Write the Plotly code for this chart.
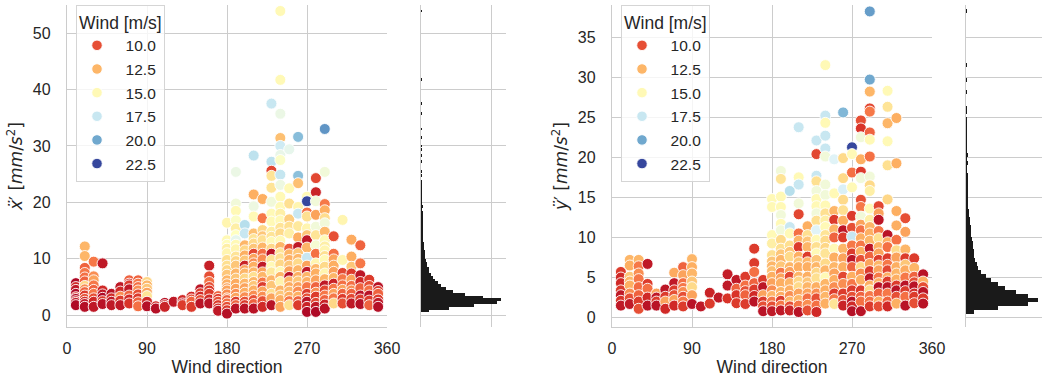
import plotly.graph_objects as go
from plotly.colors import sample_colorscale

# ---------------- data ----------------
directions = [10, 20, 30, 40, 50, 60, 70, 80, 90, 100, 110, 120, 130, 140, 150, 160, 170,
              180, 190, 200, 210, 220, 230, 240, 250, 260, 270, 280, 290, 300, 310, 320, 330, 340, 350]

accx_cols = [
    [5.7, 5.0, 4.5, 3.8, 3.2, 2.9, 2.5, 2.2, 1.8],
    [12.2, 10.5, 8.4, 7.5, 6.7, 6.0, 5.2, 4.6, 4.1, 3.5, 2.9, 2.4, 2.0, 1.5],
    [9.5, 6.9, 6.2, 5.3, 4.5, 3.8, 3.0, 2.4, 1.5],
    [9.2, 4.4, 3.7, 3.1, 2.5, 2.0],
    [3.8, 3.0, 2.4, 1.8],
    [5.0, 4.2, 3.3, 2.6, 1.8],
    [6.2, 5.6, 5.3, 4.6, 3.5, 2.8, 2.1],
    [6.2, 5.6, 5.0, 4.4, 3.7, 3.0, 2.3, 1.6],
    [5.9, 5.3, 4.7, 4.0, 3.4, 2.4, 1.6],
    [1.6, 1.2],
    [2.2, 1.8, 1.5],
    [2.4],
    [2.7, 2.1, 1.8],
    [3.3, 2.8, 2.4, 1.5],
    [4.6, 3.9, 3.3, 2.7, 2.1],
    [8.8, 6.9, 5.9, 5.0, 4.4, 3.8, 2.8, 2.1],
    [3.4, 2.9, 2.4, 1.8, 1.2, 0.8],
    [16.4, 13.3, 12.5, 11.8, 11.0, 9.8, 8.8, 8.0, 7.2, 6.2, 5.5, 4.8, 4.4, 3.7, 3.0, 2.7, 2.1, 1.5, 0.9, 0.3],
    [25.4, 19.8, 18.5, 16.8, 15.4, 14.2, 13.3, 12.5, 11.7, 10.4, 9.6, 8.8, 7.4, 6.5, 5.6, 4.7, 3.8, 3.1, 2.4, 1.8, 1.2],
    [16.0, 14.5, 12.4, 11.5, 10.6, 9.7, 8.8, 8.0, 7.4, 6.5, 5.6, 4.8, 4.0, 3.2, 2.4, 1.8, 1.2],
    [28.3, 21.4, 19.3, 17.5, 14.5, 13.5, 12.7, 11.8, 10.9, 10.0, 9.2, 8.6, 7.6, 6.8, 5.9, 5.2, 4.4, 3.5, 2.7, 2.0, 1.2],
    [20.6, 17.2, 15.1, 14.0, 13.3, 12.0, 10.9, 9.9, 8.6, 7.6, 6.8, 5.8, 5.0, 4.2, 3.3, 2.5, 1.5],
    [37.5, 27.2, 25.6, 24.7, 22.6, 20.1, 18.0, 16.6, 14.8, 13.9, 13.0, 11.8, 10.9, 9.8, 8.6, 7.6, 6.2, 5.2, 3.8, 3.0, 1.8],
    [53.9, 41.7, 35.7, 31.4, 30.0, 28.4, 27.5, 24.9, 23.1, 21.0, 19.2, 18.0, 16.8, 15.5, 14.5, 13.2, 12.1, 11.0, 10.1, 9.0, 7.7, 6.8, 5.9, 4.4, 3.5, 2.7, 1.5],
    [29.4, 22.5, 19.8, 17.0, 15.7, 14.5, 11.8, 10.8, 9.8, 8.8, 7.8, 6.8, 6.0, 5.0, 4.2, 3.3, 2.5, 1.8],
    [31.6, 24.7, 23.4, 19.2, 18.0, 15.8, 13.8, 12.1, 11.0, 10.0, 9.2, 8.0, 6.8, 6.0, 5.0, 4.2, 3.3, 2.5, 1.8],
    [21.0, 20.2, 18.2, 17.5, 15.4, 14.2, 13.3, 12.0, 10.2, 8.8, 7.7, 6.8, 5.9, 5.0, 3.8, 3.0, 2.4, 1.5, 0.6],
    [24.3, 21.8, 20.2, 17.8, 15.7, 14.2, 12.4, 10.9, 9.2, 8.2, 7.4, 6.2, 5.0, 4.0, 3.3, 2.2, 1.5, 0.6],
    [33.0, 25.4, 19.7, 18.6, 17.2, 16.3, 14.8, 13.3, 12.2, 11.5, 10.5, 9.8, 8.6, 7.4, 6.4, 5.3, 4.4, 3.5, 2.7, 1.9, 1.2],
    [14.0, 10.9, 9.9, 8.8, 7.7, 6.6, 5.6, 4.7, 3.8, 3.0, 2.1],
    [16.9, 9.8, 7.5, 6.4, 5.3, 4.5, 3.8, 2.9, 2.1],
    [13.4, 10.4, 8.6, 7.4, 6.3, 5.2, 4.4, 3.8, 2.9, 2.1],
    [12.4, 9.2, 7.1, 5.9, 4.8, 3.5, 2.8, 2.0],
    [6.3, 5.2, 4.4, 3.5, 2.6, 1.8],
    [5.0, 4.3, 3.8, 2.8, 2.2, 1.5],
]

windx_cols = [
    [8, 9, 8.5, 8, 9.5, 8, 9, 8.5, 8],
    [12.5, 12.5, 10.5, 11, 10.8, 10.5, 13.5, 11.5, 10.5, 9.5, 10, 9, 8.5, 8.2],
    [11, 11.5, 12, 11, 10.5, 11, 10, 9, 8.5],
    [8.5, 9, 8.5, 8, 9.5, 8.3],
    [8.3, 9, 8.5, 8.5],
    [8.5, 9, 11.5, 9.5, 8.5],
    [10.5, 9, 9.5, 8.5, 10.5, 9, 9.3],
    [10.5, 11, 10.8, 11.5, 10, 9.5, 10.5, 10.8],
    [13.5, 12.5, 13, 12, 14, 9, 8.2],
    [9, 8.2],
    [8.3, 9, 8.8],
    [8.5],
    [9, 8.5, 9.5],
    [9, 10, 10.5, 9.5],
    [8.4, 9.5, 9, 10, 8.3],
    [8.7, 10, 10.8, 10, 9.5, 9.5, 9, 8.3],
    [10.5, 9.5, 10, 9.5, 9, 8.5],
    [14.8, 15, 15.2, 14.5, 14.8, 13.8, 13.8, 13.5, 13, 12.5, 12.3, 12, 12, 11.5, 11.5, 10.5, 10.8, 10, 9.5, 8.2],
    [16.3, 16, 15, 15.5, 14.5, 15.3, 16.5, 15, 14.8, 14, 13.5, 13, 12.5, 13, 12.2, 12, 11.5, 12, 9.5, 10.5, 8.3],
    [18, 17.5, 12.5, 13.5, 12.3, 13, 8.8, 12, 12.5, 13.5, 12.5, 12, 12.3, 11.5, 10, 9.5, 8.3],
    [17.8, 12.3, 16.2, 15, 12.8, 14, 13.6, 13, 9.8, 12, 11.5, 12.3, 12.5, 13.8, 12.5, 13, 12.3, 11.5, 10, 10.5, 8.3],
    [12.3, 11, 13.5, 13, 13.8, 12.5, 10.8, 11.5, 8.5, 12, 12.5, 11, 9.5, 12, 11.5, 10, 9],
    [17.5, 17.8, 9.8, 14, 14, 16, 15, 15, 14.5, 14, 15, 13.5, 8.3, 14, 15, 14.2, 12.5, 13, 13.8, 12, 8.3],
    [15, 15, 16.3, 12.8, 17.3, 16.4, 15.5, 17.6, 16.2, 15, 15, 14.5, 15, 14, 13.6, 15, 12.5, 14, 13.8, 13.5, 15, 12.5, 14.7, 12.5, 13, 12.3, 12],
    [16.5, 15, 13.8, 13.2, 13.8, 14.5, 10.3, 12.5, 12.3, 13, 12, 8.3, 12.5, 12.2, 12.6, 12.3, 11, 13.8],
    [19.3, 19.2, 12.8, 14.8, 17.5, 14.2, 12.3, 8.5, 13, 12.5, 13.6, 12.5, 12.3, 13, 12, 11.5, 12.3, 10.5, 9.5],
    [15, 22.5, 10.8, 13.8, 14.8, 13, 8.5, 12.5, 17.5, 12, 8.5, 12.5, 12.3, 11, 9.5, 10, 8.3, 8.8, 8.0],
    [9.8, 8.8, 16, 12, 16, 14, 15.8, 10.8, 14.8, 12.5, 12.3, 12, 10.5, 11.5, 9.5, 9.8, 8.5, 8.0],
    [20.5, 16, 11, 12.3, 13.7, 16, 12.6, 15, 14.5, 14.8, 13.8, 15, 13.6, 14.8, 12.5, 8.5, 9.8, 11, 10.5, 8.8, 8.3],
    [10, 10.8, 12, 12.3, 12, 12.5, 8.8, 11, 12, 11, 13.5],
    [14.8, 14.8, 9.8, 11, 10.8, 12, 10.5, 9.5, 10],
    [12.2, 12.3, 13, 9.5, 12, 10.8, 11.5, 10.5, 9.8, 8.5],
    [10.5, 11, 8.4, 9, 10.5, 8.3, 9.5, 8.2],
    [9.5, 10, 10.8, 8.3, 9.5, 10.5],
    [8.3, 9.5, 10.5, 9.5, 8.5, 8.2],
]

accy_cols = [
    [5.7, 5.0, 4.3, 3.4, 2.8, 2.1, 1.5],
    [7.2, 6.5, 5.1, 4.5, 4.0, 3.0, 2.4, 1.7],
    [7.2, 6.4, 5.5, 4.8, 3.8, 2.8, 2.0, 1.1],
    [6.7, 4.2, 3.6, 2.5, 1.5],
    [3.0, 2.5, 2.0, 1.5],
    [3.5, 2.6, 2.0, 1.1],
    [5.6, 4.3, 3.4, 2.8, 2.2, 1.5],
    [6.3, 5.3, 4.3, 3.7, 3.2, 2.6, 2.0, 1.4],
    [7.3, 6.3, 5.5, 4.5, 3.8, 2.8, 1.7],
    [1.4],
    [3.1, 1.75],
    [2.5],
    [5.4, 4.0, 2.4],
    [4.7, 3.6, 2.8, 1.8],
    [5.1, 4.0, 3.3, 2.8, 1.7],
    [8.6, 6.8, 5.7, 4.3, 3.5, 2.7, 2.0],
    [4.7, 3.8, 2.8, 2.0, 1.4, 0.8],
    [14.8, 13.8, 10.3, 9.25, 7.8, 7.0, 6.4, 5.8, 5.1, 4.3, 3.4, 2.7, 2.0, 1.4, 0.8],
    [18.3, 17.3, 15.1, 13.8, 12.8, 11.7, 10.9, 9.7, 8.6, 7.9, 7.2, 6.4, 5.6, 4.9, 4.3, 3.2, 2.6, 2.1, 1.5, 0.9],
    [15.8, 11.3, 10.5, 9.0, 8.2, 7.6, 6.3, 5.7, 5.1, 4.3, 3.4, 2.7, 2.0, 1.4, 0.9],
    [23.75, 17.5, 16.6, 14.25, 12.9, 10.5, 9.6, 8.8, 7.6, 6.9, 6.3, 5.1, 4.5, 3.8, 3.0, 2.2, 1.5, 0.7],
    [11.4, 10.3, 9.5, 8.8, 7.6, 6.9, 6.3, 5.1, 4.4, 3.8, 3.0, 2.4, 1.6, 0.9],
    [22.1, 20.4, 17.7, 17.0, 15.8, 14.8, 13.9, 13.0, 12.1, 10.9, 9.7, 8.8, 8.0, 7.2, 6.3, 5.6, 4.9, 3.8, 3.0, 2.4, 1.5, 0.7],
    [31.5, 25.2, 24.3, 22.7, 21.1, 20.1, 16.6, 15.3, 14.0, 13.0, 12.1, 11.3, 10.3, 9.6, 8.7, 8.0, 6.75, 5.9, 5.0, 4.2, 3.4, 2.6, 1.75],
    [19.75, 15.5, 13.3, 12.2, 11.0, 10.0, 8.6, 7.5, 6.3, 5.5, 4.7, 3.8, 3.0, 2.3, 1.7],
    [25.6, 19.9, 17.4, 16.0, 14.7, 13.4, 12.1, 10.9, 10.0, 8.6, 7.4, 6.3, 5.1, 4.2, 3.0, 2.2, 1.5],
    [21.25, 20.4, 18.1, 16.25, 12.7, 11.2, 10.1, 9.0, 8.0, 7.2, 6.3, 5.1, 4.2, 3.4, 2.6, 2.0, 1.4, 0.8],
    [24.6, 23.6, 22.5, 19.75, 18.2, 17.4, 14.7, 13.8, 12.6, 11.6, 10.9, 9.9, 9.0, 8.2, 7.2, 6.3, 5.5, 4.7, 3.4, 2.6, 2.0, 0.8],
    [38.2, 29.7, 28.2, 26.1, 25.7, 23.1, 22.2, 20.1, 17.6, 16.5, 15.8, 13.6, 12.2, 11.3, 10.5, 9.6, 8.6, 7.6, 6.7, 5.8, 4.9, 4.0, 3.4, 2.7, 2.0, 1.4],
    [13.9, 13.0, 12.2, 10.8, 9.9, 8.8, 8.0, 7.2, 6.5, 5.9, 5.0, 4.3, 3.8, 3.0, 2.0, 1.4],
    [28.3, 26.3, 24.25, 22.0, 19.0, 14.75, 10.3, 9.4, 8.8, 7.4, 6.6, 5.9, 5.0, 4.5, 3.8, 3.0, 2.0, 1.4],
    [24.9, 19.25, 13.3, 11.5, 9.7, 8.4, 7.5, 6.3, 5.5, 4.75, 4.0, 3.4, 2.6, 1.75],
    [12.4, 10.7, 8.5, 7.4, 6.6, 5.9, 5.0, 4.0, 3.3, 2.6, 1.5],
    [7.4, 6.2, 5.1, 4.4, 3.9, 3.0, 2.6, 1.8],
    [5.4, 4.5, 3.8, 3.2, 2.4, 1.75],
]

windy_cols = [
    [9.5, 9, 9, 9.5, 8.5, 9.3, 8.5],
    [12.5, 12.3, 13, 12.5, 12.3, 11.5, 10, 8.5],
    [12.5, 11, 11.5, 11, 10.7, 10.5, 9.5, 10],
    [8.5, 9.5, 10.8, 9, 8.3],
    [12, 8.5, 9.5, 8.3],
    [8.4, 9.5, 12, 9],
    [12.2, 8.5, 9.5, 10, 12, 9],
    [10.5, 12, 10.8, 11, 11.5, 10, 11, 9.5],
    [12.5, 12.3, 12.5, 13, 13.6, 12, 8.3],
    [8.5],
    [8.8, 9.5],
    [8.5],
    [8.6, 8.5, 9.3],
    [8.5, 10.5, 9.3, 9.5],
    [9.5, 10.8, 10, 10.5, 9.5],
    [9.5, 9.5, 10.8, 10.5, 9.5, 9, 8.3],
    [9.5, 8.4, 12, 9.5, 10, 8.3],
    [15, 15, 15, 14.5, 13.8, 13, 12.5, 12.8, 12.3, 12, 11.5, 12.5, 11, 10, 8.5],
    [16, 14, 15, 15, 16, 15, 16, 13.6, 13.8, 13, 12.5, 13, 11, 12, 12.3, 12.5, 12.2, 9.5, 11, 8.5],
    [18, 17.5, 15, 13.8, 13, 13.6, 12.5, 12, 9.8, 12.5, 12.3, 11.5, 12.5, 10, 8.8],
    [17.5, 15, 17.5, 16, 9.8, 10.8, 12.5, 9.5, 12.3, 13, 12.3, 12.5, 13.5, 13.6, 12, 12.5, 11, 8.3],
    [12.3, 13.8, 13, 12.5, 9.5, 12.5, 12.3, 12.3, 13, 12.5, 12, 10.8, 11.5, 10],
    [17.5, 9.8, 17.5, 13.8, 16, 15, 15, 16, 13.8, 16.8, 15, 13.8, 15, 13, 12.5, 13.5, 13.8, 12.3, 11.5, 10, 10.8, 9],
    [15, 17.5, 15, 17.5, 17.5, 16, 16, 16, 15, 13.8, 14.5, 15, 14, 13.6, 13.5, 14, 13.6, 12.5, 15, 12.5, 12.3, 12.5, 12.3],
    [16.8, 15, 12.5, 9.5, 12.5, 10.5, 15, 12.3, 12.5, 12, 12.3, 11.5, 9.5, 11, 14],
    [19.5, 13.6, 13.6, 17, 13.6, 13.8, 12.3, 8.4, 9.5, 12.5, 12, 12.3, 9.8, 11.5, 9.5, 10, 8.8],
    [22.5, 15, 10.8, 15, 9.5, 10, 17.5, 11, 9.5, 8.4, 10.5, 12.3, 11, 9.5, 10, 8.3, 9, 8.2],
    [10, 9.3, 16, 12.3, 9.5, 16, 10, 11, 16, 12, 10.8, 12.3, 11, 12.3, 10, 13.5, 11.5, 12.3, 9.5, 10.5, 10.8, 8.3],
    [20.3, 20, 12.5, 9.8, 11, 10.5, 15, 10.8, 16, 13.6, 14.5, 15, 14.5, 12.5, 12.3, 12.5, 8.4, 10.5, 12, 9.5, 8.4, 12.3, 13.6, 11, 10.8, 9.5],
    [9.8, 12, 8.4, 11, 13.8, 12.3, 12, 9.5, 12.5, 12, 11, 12.3, 8.3, 10.5, 12.3, 10],
    [15, 14, 12.5, 15, 13.8, 13.5, 8.3, 12.3, 10.8, 9.5, 11, 9.8, 12.3, 9.5, 8.3, 11, 10.5, 9],
    [12.3, 12.3, 12.3, 12.3, 10.8, 13.6, 12, 12.3, 12.5, 12.3, 9.5, 8.3, 10, 12.3],
    [10, 12, 12.5, 9.5, 13, 12.2, 11, 8.3, 9.5, 10.8, 8.3],
    [9.5, 12.5, 10.5, 10, 8.3, 9, 9.5, 10],
    [8.3, 12.3, 10, 8.3, 9.5, 8.3],
]

legend_winds = [10.0, 12.5, 15.0, 17.5, 20.0, 22.5]
wind_min, wind_max = 7.7, 22.9

# marginal histograms (bin width 0.5, first bin starts at 0.5)
hist_bin_width = 0.5
hist_start = 0.5
histx_counts = [12, 40, 75, 108, 114, 88, 62, 46, 36, 29, 24, 20, 17, 14, 12, 11, 9, 8, 7, 6,
                6, 5, 4, 4, 4, 3, 3, 3, 3, 2, 2, 2, 2, 2, 2, 2, 1, 2, 1, 1, 1, 1, 1, 1, 1, 1, 1]
histx_tail = [24.7, 25.5, 27.2, 28.3, 29.4, 30.0, 31.5, 33.0, 35.7, 37.5, 41.7, 53.9]
histy_counts = [10, 42, 82, 95, 82, 66, 52, 42, 33, 26, 20, 16, 14, 12, 11, 10, 9, 9, 8, 7,
                6, 6, 5, 5, 4, 4, 3, 3, 3, 3, 2, 2, 2, 2, 2, 1, 1, 2, 1, 2, 1, 1, 1, 1, 1, 1, 1, 1, 1]
histy_tail = [25.6, 26.2, 28.2, 29.7, 31.5, 38.2]

xtick_vals = [0, 90, 180, 270, 360]

# ---------------- figure ----------------
W, H = 1043, 386
def fx(px):
    return px / W
def fy(py):
    return 1 - py / H

FONT = "Liberation Sans, Arial, sans-serif"
TXT = "#262626"
GRID = "#cccccc"
CSCALE = "RdYlBu"
MSIZE = 11

def flatten(cols_y, cols_w):
    xs, ys, ws = [], [], []
    for d, yc, wc in zip(directions, cols_y, cols_w):
        for yv, wv in zip(yc, wc):
            xs.append(d); ys.append(yv); ws.append(wv)
    return xs, ys, ws

fig = go.Figure()

panels = [
    dict(cols=(accx_cols, windx_cols), xa="x", ya="y", hxa="x2", hya="y2",
         hist=histx_counts, tail=histx_tail, legend="legend"),
    dict(cols=(accy_cols, windy_cols), xa="x3", ya="y3", hxa="x4", hya="y4",
         hist=histy_counts, tail=histy_tail, legend="legend2"),
]

for p in panels:
    xs, ys, ws = flatten(*p["cols"])
    fig.add_trace(go.Scatter(
        x=xs, y=ys, mode="markers", xaxis=p["xa"], yaxis=p["ya"], showlegend=False,
        marker=dict(size=MSIZE, color=ws, colorscale=CSCALE, cmin=wind_min, cmax=wind_max,
                    line=dict(color="white", width=0.9)),
        hoverinfo="skip"))
    for w in legend_winds:
        col = sample_colorscale(CSCALE, [(w - wind_min) / (wind_max - wind_min)])[0]
        fig.add_trace(go.Scatter(
            x=[None], y=[None], mode="markers", xaxis=p["xa"], yaxis=p["ya"],
            name="\u00a0\u00a0" + f"{w:.1f}", legend=p["legend"], legendgroup=p["legend"] + str(w),
            marker=dict(size=10.5, color=col, line=dict(color="white", width=0.9))))
    centers = [hist_start + hist_bin_width * (i + 0.5) for i in range(len(p["hist"]))]
    fig.add_trace(go.Bar(
        x=p["hist"] + [1] * len(p["tail"]), y=centers + p["tail"], orientation="h",
        width=hist_bin_width, xaxis=p["hxa"], yaxis=p["hya"], showlegend=False,
        marker=dict(color="#1a1a1a", line=dict(width=0)), hoverinfo="skip"))

ydom = [fy(327), fy(5)]
common_grid = dict(showgrid=True, gridcolor=GRID, gridwidth=1, zeroline=False,
                   tickfont=dict(family=FONT, size=16, color=TXT), automargin=False)

ytitle_x = "<i>ẍ</i>\u2032 [<i>mm</i>/<i>s</i><sup>2</sup>]"
ytitle_y = "<i>ÿ</i>\u2032 [<i>mm</i>/<i>s</i><sup>2</sup>]"

layout_axes = dict(
    xaxis=dict(domain=[fx(67), fx(387)], anchor="y", range=[0, 360], tickvals=xtick_vals,
               showline=True, linecolor=GRID, linewidth=1.3, ticks="", ticklabelstandoff=7,
               title=dict(text="Wind direction", font=dict(family=FONT, size=17.5, color=TXT), standoff=2),
               **common_grid),
    yaxis=dict(domain=ydom, anchor="x", range=[-2.07, 54.96], tickvals=[0, 10, 20, 30, 40, 50],
               showline=True, linecolor=GRID, linewidth=1.3, ticks="", ticklabelstandoff=12,
               title=dict(text=ytitle_x, font=dict(family="DejaVu Sans", size=17, color=TXT), standoff=5),
               **common_grid),
    xaxis2=dict(domain=[fx(421), fx(506)], anchor="y2", range=[0, 121], tickvals=[0, 100],
                showticklabels=False, showline=False, ticks="", **common_grid),
    yaxis2=dict(domain=ydom, anchor="x2", matches="y", tickvals=[0, 10, 20, 30, 40, 50],
                showticklabels=False, showline=True, linecolor=GRID, linewidth=1.3, ticks="", **common_grid),
    xaxis3=dict(domain=[fx(612), fx(932)], anchor="y3", range=[0, 360], tickvals=xtick_vals,
                showline=True, linecolor=GRID, linewidth=1.3, ticks="", ticklabelstandoff=7,
                title=dict(text="Wind direction", font=dict(family=FONT, size=17.5, color=TXT), standoff=2),
                **common_grid),
    yaxis3=dict(domain=ydom, anchor="x3", range=[-1.17, 39.0], tickvals=[0, 5, 10, 15, 20, 25, 30, 35],
                showline=True, linecolor=GRID, linewidth=1.3, ticks="", ticklabelstandoff=12,
                title=dict(text=ytitle_y, font=dict(family="DejaVu Sans", size=17, color=TXT), standoff=5),
                **common_grid),
    xaxis4=dict(domain=[fx(966), fx(1042)], anchor="y4", range=[0, 100.5], tickvals=[0, 100],
                showticklabels=False, showline=False, ticks="", **common_grid),
    yaxis4=dict(domain=ydom, anchor="x4", matches="y3", tickvals=[0, 5, 10, 15, 20, 25, 30, 35],
                showticklabels=False, showline=True, linecolor=GRID, linewidth=1.3, ticks="", **common_grid),
)

legend_common = dict(
    bgcolor="rgba(255,255,255,0.8)", bordercolor="#d5d5d5", borderwidth=1,
    font=dict(family=FONT, size=15.5, color=TXT), xanchor="left", yanchor="top",
    itemsizing="trace", tracegroupgap=0.5,
    title=dict(text="Wind [m/s]", font=dict(family=FONT, size=17.5, color=TXT)),
)

fig.update_layout(
    width=W, height=H, margin=dict(l=0, r=0, t=0, b=0),
    paper_bgcolor="white", plot_bgcolor="white", bargap=0,
    font=dict(family=FONT, color=TXT),
    legend=dict(x=fx(76), y=fy(5), **legend_common),
    legend2=dict(x=fx(621), y=fy(5), **legend_common),
    **layout_axes,
)

fig.write_html("out.html", config={"displayModeBar": False},
               post_script="document.body.style.margin='0';document.body.style.overflow='hidden';")
